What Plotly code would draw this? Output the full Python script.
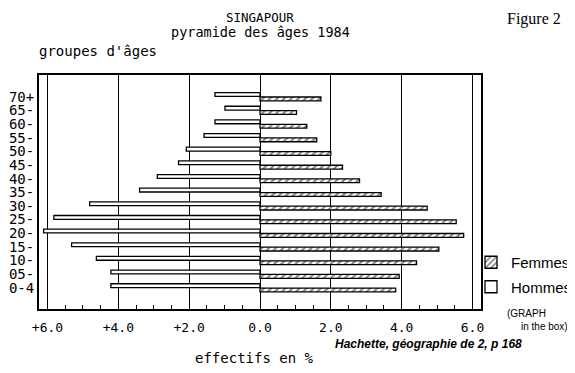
import plotly.graph_objects as go

# ---- data ----
age_groups = ["0-4", "05-", "10-", "15-", "20-", "25-", "30-", "35-", "40-",
              "45-", "50-", "55-", "60-", "65-", "70+"]
hommes = [4.21, 4.21, 4.62, 5.32, 6.11, 5.82, 4.81, 3.40, 2.90, 2.30, 2.08,
          1.58, 1.27, 0.99, 1.27]
femmes = [3.83, 3.93, 4.42, 5.05, 5.75, 5.54, 4.72, 3.42, 2.81, 2.33, 2.00,
          1.60, 1.32, 1.03, 1.72]
x_tick_vals = [-6, -4, -2, 0, 2, 4, 6]
x_tick_text = ["+6.0", "+4.0", "+2.0", "0.0", "2.0", "4.0", "6.0"]

# the page body has an 8px margin: size the figure so it ends at the window edge
OFF = 8
W, H = 575 - OFF, 373 - OFF
L, R, T, B = 39 - OFF, 94, 75 - OFF, 64
PW, PH = W - L - R, H - T - B


def px(x):
    return (x - OFF - L) / PW


def py(y):
    return (H - B - (y - OFF)) / PH


MONO = "DejaVu Sans Mono"

fig = go.Figure()
fig.add_trace(go.Bar(
    y=age_groups, x=femmes, orientation="h", name="Femmes",
    offset=-0.30, width=0.28, legendgroup="f",
    marker=dict(color="white", line=dict(color="black", width=1.3),
                pattern=dict(shape="/", size=5, solidity=0.4,
                             fgcolor="black", bgcolor="white")),
))
fig.add_trace(go.Bar(
    y=age_groups, x=[-v for v in hommes], orientation="h", name="Hommes",
    offset=0.02, width=0.28, legendgroup="h",
    marker=dict(color="white", line=dict(color="black", width=1.3)),
))

fig.update_layout(
    width=W, height=H, margin=dict(l=L, r=R, t=T, b=B, autoexpand=False),
    paper_bgcolor="white", plot_bgcolor="white",
    barmode="overlay", showlegend=True,
    font=dict(family=MONO, color="black"),
    legend=dict(x=px(471), y=py(246), xanchor="left", yanchor="top",
                font=dict(family="Liberation Sans", size=15, color="black"),
                tracegroupgap=2, bgcolor="rgba(0,0,0,0)", traceorder="grouped",
                itemwidth=30),
    xaxis=dict(range=[-6.24, 6.24], tickmode="array", tickvals=x_tick_vals,
               ticktext=x_tick_text, automargin=False,
               showgrid=True, gridcolor="black", gridwidth=1.3,
               zeroline=True, zerolinecolor="black", zerolinewidth=1.3,
               showline=True, mirror=True, linecolor="black", linewidth=2,
               ticks="", ticklabelstandoff=5,
               tickfont=dict(family=MONO, size=13, color="black"),
               minor=dict(dtick=0.5, ticks="inside", ticklen=4,
                          tickcolor="black", tickwidth=1.2, showgrid=False)),
    yaxis=dict(type="category", categoryorder="array", categoryarray=age_groups,
               tickmode="array", tickvals=age_groups, ticktext=age_groups,
               automargin=False,
               range=[-1.55, 15.59], showgrid=False, zeroline=False,
               showline=True, mirror=True, linecolor="black", linewidth=2,
               ticks="", tickfont=dict(family=MONO, size=14, color="black")),
)

ann = [
    dict(text="SINGAPOUR", x=px(260), y=py(8.5), size=12.5, family=MONO, xa="center", ya="top"),
    dict(text="pyramide des âges 1984", x=px(260), y=py(32), size=13.5, family=MONO, xa="center", ya="middle"),
    dict(text="groupes d'âges", x=px(37), y=py(51), size=14, family=MONO, xa="left", ya="middle"),
    dict(text="Figure 2", x=px(563), y=py(8.5), size=16, family="Liberation Serif", xa="right", ya="top"),
    dict(text="effectifs en %", x=px(254), y=py(358), size=14, family=MONO, xa="center", ya="middle"),
    dict(text="<b><i>Hachette, géographie de 2, p 168</i></b>", x=px(333), y=py(344),
         size=12, family="Liberation Sans", xa="left", ya="middle"),
    dict(text="(GRAPH", x=px(505), y=py(313), size=10, family="Liberation Sans", xa="left", ya="middle"),
    dict(text="in the box)", x=px(519), y=py(326), size=10, family="Liberation Sans", xa="left", ya="middle"),
]
for a in ann:
    fig.add_annotation(text=a["text"], x=a["x"], y=a["y"], xref="paper", yref="paper",
                       xanchor=a["xa"], yanchor=a["ya"], showarrow=False,
                       font=dict(family=a["family"], size=a["size"], color="black"))

fig.write_html("out.html")
